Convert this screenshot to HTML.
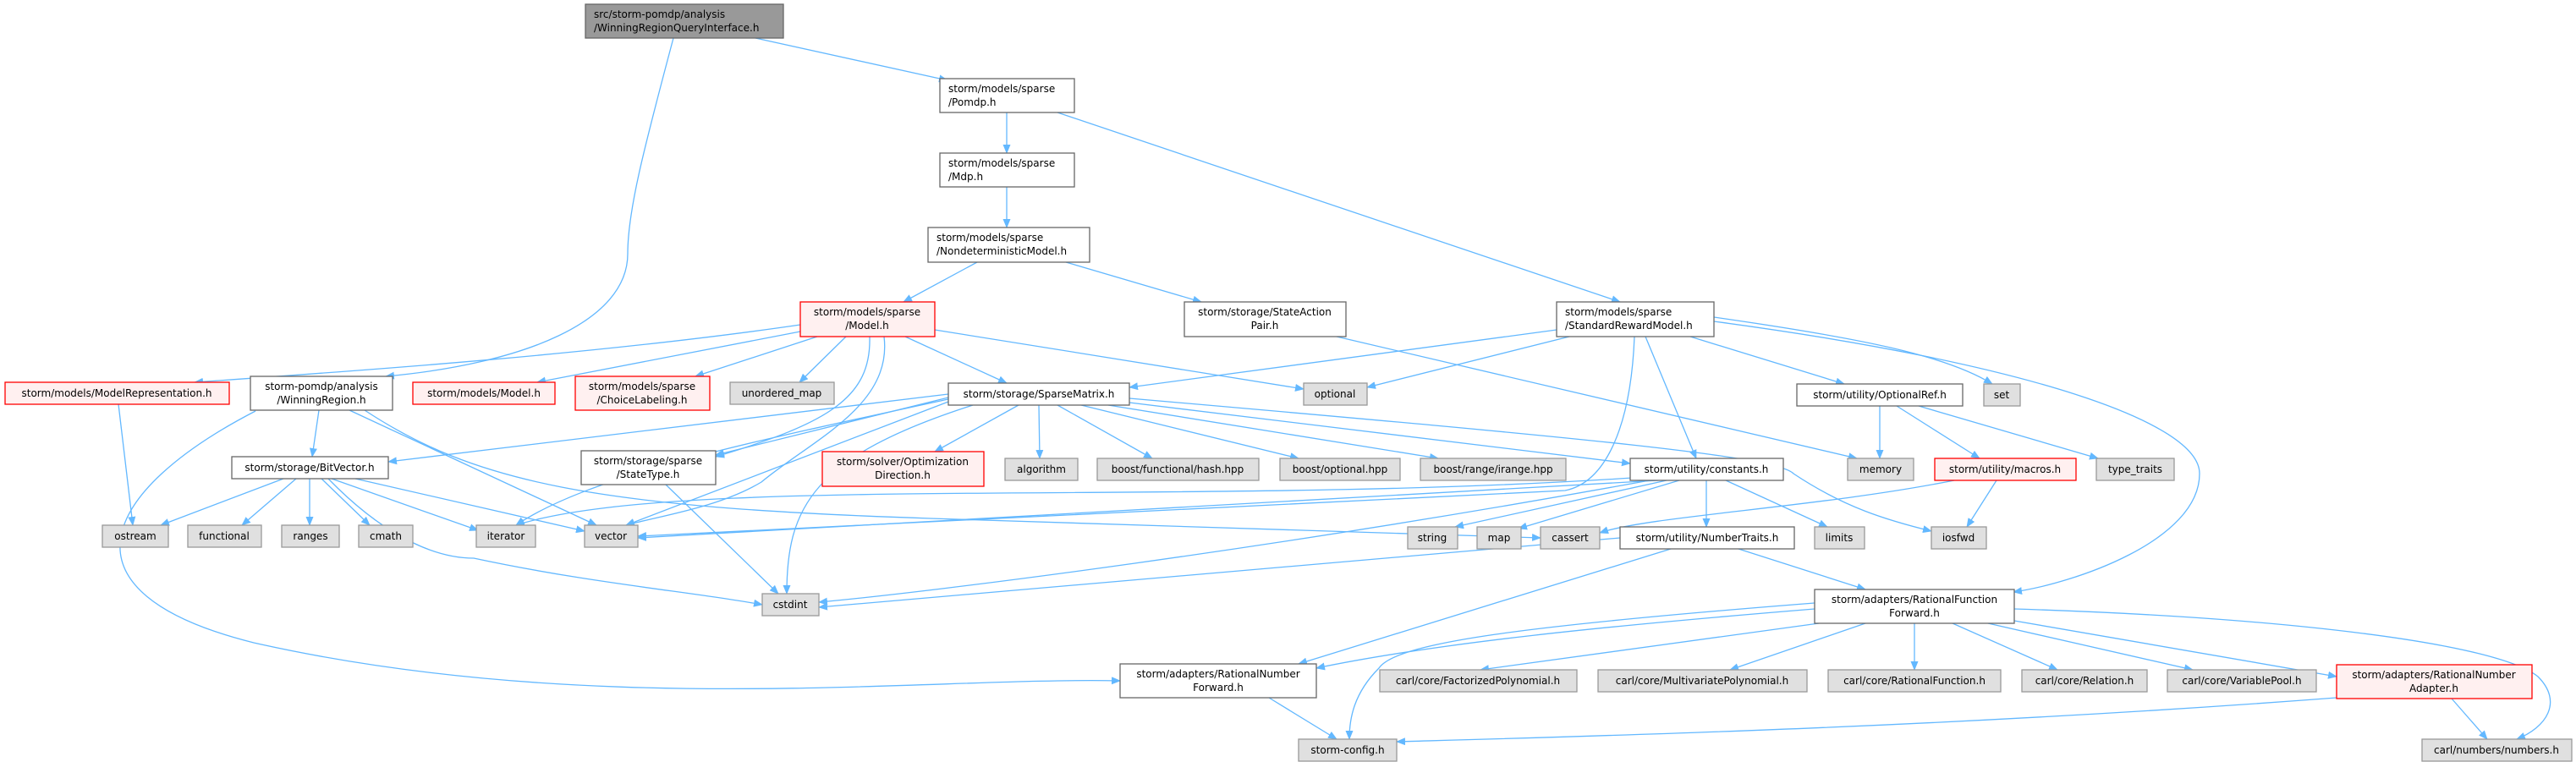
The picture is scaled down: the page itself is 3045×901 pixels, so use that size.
<!DOCTYPE html>
<html><head><meta charset="utf-8"><style>
html,body{margin:0;padding:0;background:#fff;}
svg{display:block;}
text{font-family:"DejaVu Sans","Liberation Sans",sans-serif;font-size:12px;fill:#000;}
.n rect{fill:#fff;stroke:#666;stroke-width:1.3;}
.r rect{fill:#fff0f0;stroke:#ff0000;stroke-width:1.3;}
.g rect{fill:#e0e0e0;stroke:#999;stroke-width:1.3;}
.root rect{fill:#999;stroke:#666;stroke-width:1.3;}
path.e{fill:none;stroke:#63b8ff;stroke-width:1.3;marker-end:url(#a);}
</style></head><body>
<svg width="3045" height="901" viewBox="0 0 3045 901" xmlns="http://www.w3.org/2000/svg">
<defs><marker id="a" markerUnits="userSpaceOnUse" markerWidth="11" markerHeight="9" refX="10" refY="4.5" orient="auto"><path d="M0,0 L11,4.5 L0,9 z" fill="#63b8ff"/></marker></defs>
<g>
<path class="e" d="M893,45 L1120,95"/>
<path class="e" d="M796,45 C760,180 742,250 742,300 C742,380 620,430 456,445"/>
<path class="e" d="M1190,133 L1190,181"/>
<path class="e" d="M1250,133 L1915,357"/>
<path class="e" d="M1190,221 L1190,269"/>
<path class="e" d="M1155,310 L1068,357"/>
<path class="e" d="M1260,310 L1420,357"/>
<path class="e" d="M946,384 C700,420 400,440 230,452"/>
<path class="e" d="M946,392 L635,452"/>
<path class="e" d="M966,398 L822,445"/>
<path class="e" d="M1000,398 L945,452"/>
<path class="e" d="M1070,398 L1190,453"/>
<path class="e" d="M1105,390 L1541,460"/>
<path class="e" d="M1028,398 C1030,470 980,500 846,540"/>
<path class="e" d="M1045,398 C1055,480 960,520 900,570 C850,600 780,610 740,621"/>
<path class="e" d="M1580,398 L2195,542"/>
<path class="e" d="M1840,390 L1335,458"/>
<path class="e" d="M1855,398 L1616,458"/>
<path class="e" d="M2026,375 C2200,400 2300,420 2355,454"/>
<path class="e" d="M1998,398 L2180,454"/>
<path class="e" d="M1945,398 L2005,542"/>
<path class="e" d="M1932,398 C1928,500 1900,570 1850,580 L754,634"/>
<path class="e" d="M2026,380 C2400,430 2600,500 2600,560 C2600,640 2450,690 2380,700"/>
<path class="e" d="M377,485 L369,540"/>
<path class="e" d="M413,485 L705,621"/>
<path class="e" d="M431,485 C560,570 700,600 1100,613 C1500,625 1700,630 1821,636"/>
<path class="e" d="M302,486 C120,580 60,700 300,760 C700,850 1100,800 1324,805"/>
<path class="e" d="M140,478 L157,621"/>
<path class="e" d="M1121,466 L459,546"/>
<path class="e" d="M1121,470 L846,538"/>
<path class="e" d="M1204,479 L1105,534"/>
<path class="e" d="M1228,479 L1229,542"/>
<path class="e" d="M1250,479 L1362,542"/>
<path class="e" d="M1278,479 L1535,542"/>
<path class="e" d="M1310,479 L1700,542"/>
<path class="e" d="M1335,476 L1927,548"/>
<path class="e" d="M1335,471 C1900,520 2100,540 2120,560 C2180,600 2230,615 2283,628"/>
<path class="e" d="M1121,475 L740,621"/>
<path class="e" d="M1121,472 C900,520 700,560 610,621"/>
<path class="e" d="M1150,479 C960,540 930,600 930,702"/>
<path class="e" d="M335,566 L190,621"/>
<path class="e" d="M350,566 L286,621"/>
<path class="e" d="M366,566 L366,621"/>
<path class="e" d="M380,566 L437,621"/>
<path class="e" d="M392,566 L565,627"/>
<path class="e" d="M420,566 L691,628"/>
<path class="e" d="M388,566 C460,640 520,660 560,660 C700,690 820,700 901,715"/>
<path class="e" d="M787,573 L920,702"/>
<path class="e" d="M1960,568 L754,636"/>
<path class="e" d="M1970,568 L1720,623"/>
<path class="e" d="M1985,568 L1795,625"/>
<path class="e" d="M2310,568 C2150,600 1950,610 1891,630"/>
<path class="e" d="M2040,568 L2160,623"/>
<path class="e" d="M2017,568 L2017,623"/>
<path class="e" d="M1950,568 C1500,650 1100,700 968,712"/>
<path class="e" d="M1930,565 C1400,600 800,560 610,621"/>
<path class="e" d="M2222,480 L2222,542"/>
<path class="e" d="M2242,480 L2340,542"/>
<path class="e" d="M2268,480 L2480,542"/>
<path class="e" d="M2360,568 L2325,623"/>
<path class="e" d="M1915,636 L968,718"/>
<path class="e" d="M1975,649 L1535,785"/>
<path class="e" d="M2055,649 L2205,697"/>
<path class="e" d="M2145,720 C1900,740 1700,760 1556,790"/>
<path class="e" d="M2145,713 C1800,740 1650,760 1630,790 C1600,820 1595,850 1595,874"/>
<path class="e" d="M2150,737 L1750,792"/>
<path class="e" d="M2205,737 L2045,792"/>
<path class="e" d="M2263,737 L2263,792"/>
<path class="e" d="M2308,737 L2432,792"/>
<path class="e" d="M2350,737 L2592,792"/>
<path class="e" d="M2381,734 L2762,800"/>
<path class="e" d="M2381,720 C2700,730 2950,760 3000,800 C3030,830 3010,860 2975,874"/>
<path class="e" d="M1500,825 L1580,874"/>
<path class="e" d="M2762,825 C2300,860 1900,870 1651,877"/>
<path class="e" d="M2898,826 L2940,874"/>
</g>
<g class="root"><rect x="692" y="5" width="234" height="40"/><text x="702" y="21">src/storm-pomdp/analysis</text><text x="702" y="37">/WinningRegionQueryInterface.h</text></g>
<g class="n"><rect x="1111" y="93" width="159" height="40"/><text x="1121" y="109">storm/models/sparse</text><text x="1121" y="125">/Pomdp.h</text></g>
<g class="n"><rect x="1111" y="181" width="159" height="40"/><text x="1121" y="197">storm/models/sparse</text><text x="1121" y="213">/Mdp.h</text></g>
<g class="n"><rect x="1097" y="269" width="191" height="41"/><text x="1107" y="285">storm/models/sparse</text><text x="1107" y="301">/NondeterministicModel.h</text></g>
<g class="r"><rect x="946" y="357" width="159" height="41"/><text x="1025" y="373" text-anchor="middle">storm/models/sparse</text><text x="1025" y="389" text-anchor="middle">/Model.h</text></g>
<g class="n"><rect x="1400" y="357" width="191" height="41"/><text x="1495" y="373" text-anchor="middle">storm/storage/StateAction</text><text x="1495" y="389" text-anchor="middle">Pair.h</text></g>
<g class="n"><rect x="1840" y="357" width="186" height="41"/><text x="1850" y="373">storm/models/sparse</text><text x="1850" y="389">/StandardRewardModel.h</text></g>
<g class="r"><rect x="6" y="452" width="265" height="26"/><text x="138" y="469" text-anchor="middle">storm/models/ModelRepresentation.h</text></g>
<g class="n"><rect x="296" y="445" width="168" height="40"/><text x="380" y="461" text-anchor="middle">storm-pomdp/analysis</text><text x="380" y="477" text-anchor="middle">/WinningRegion.h</text></g>
<g class="r"><rect x="488" y="452" width="168" height="26"/><text x="572" y="469" text-anchor="middle">storm/models/Model.h</text></g>
<g class="r"><rect x="680" y="445" width="159" height="40"/><text x="759" y="461" text-anchor="middle">storm/models/sparse</text><text x="759" y="477" text-anchor="middle">/ChoiceLabeling.h</text></g>
<g class="g"><rect x="863" y="452" width="123" height="26"/><text x="924" y="469" text-anchor="middle">unordered_map</text></g>
<g class="n"><rect x="1121" y="453" width="214" height="26"/><text x="1228" y="470" text-anchor="middle">storm/storage/SparseMatrix.h</text></g>
<g class="g"><rect x="1541" y="453" width="75" height="26"/><text x="1578" y="470" text-anchor="middle">optional</text></g>
<g class="n"><rect x="2124" y="454" width="196" height="26"/><text x="2222" y="471" text-anchor="middle">storm/utility/OptionalRef.h</text></g>
<g class="g"><rect x="2345" y="454" width="43" height="26"/><text x="2366" y="471" text-anchor="middle">set</text></g>
<g class="n"><rect x="274" y="540" width="185" height="26"/><text x="366" y="557" text-anchor="middle">storm/storage/BitVector.h</text></g>
<g class="n"><rect x="687" y="533" width="159" height="40"/><text x="766" y="549" text-anchor="middle">storm/storage/sparse</text><text x="766" y="565" text-anchor="middle">/StateType.h</text></g>
<g class="r"><rect x="972" y="534" width="191" height="41"/><text x="1067" y="550" text-anchor="middle">storm/solver/Optimization</text><text x="1067" y="566" text-anchor="middle">Direction.h</text></g>
<g class="g"><rect x="1188" y="542" width="86" height="26"/><text x="1231" y="559" text-anchor="middle">algorithm</text></g>
<g class="g"><rect x="1297" y="542" width="191" height="26"/><text x="1392" y="559" text-anchor="middle">boost/functional/hash.hpp</text></g>
<g class="g"><rect x="1513" y="542" width="142" height="26"/><text x="1584" y="559" text-anchor="middle">boost/optional.hpp</text></g>
<g class="g"><rect x="1679" y="542" width="172" height="26"/><text x="1765" y="559" text-anchor="middle">boost/range/irange.hpp</text></g>
<g class="n"><rect x="1927" y="542" width="181" height="26"/><text x="2017" y="559" text-anchor="middle">storm/utility/constants.h</text></g>
<g class="g"><rect x="2184" y="542" width="78" height="26"/><text x="2223" y="559" text-anchor="middle">memory</text></g>
<g class="r"><rect x="2287" y="542" width="167" height="26"/><text x="2370" y="559" text-anchor="middle">storm/utility/macros.h</text></g>
<g class="g"><rect x="2478" y="542" width="92" height="26"/><text x="2524" y="559" text-anchor="middle">type_traits</text></g>
<g class="g"><rect x="121" y="621" width="78" height="26"/><text x="160" y="638" text-anchor="middle">ostream</text></g>
<g class="g"><rect x="222" y="621" width="87" height="26"/><text x="265" y="638" text-anchor="middle">functional</text></g>
<g class="g"><rect x="333" y="621" width="68" height="26"/><text x="367" y="638" text-anchor="middle">ranges</text></g>
<g class="g"><rect x="424" y="621" width="64" height="26"/><text x="456" y="638" text-anchor="middle">cmath</text></g>
<g class="g"><rect x="563" y="621" width="70" height="26"/><text x="598" y="638" text-anchor="middle">iterator</text></g>
<g class="g"><rect x="691" y="621" width="63" height="26"/><text x="722" y="638" text-anchor="middle">vector</text></g>
<g class="g"><rect x="1664" y="623" width="59" height="26"/><text x="1693" y="640" text-anchor="middle">string</text></g>
<g class="g"><rect x="1746" y="623" width="52" height="26"/><text x="1772" y="640" text-anchor="middle">map</text></g>
<g class="g"><rect x="1821" y="623" width="70" height="26"/><text x="1856" y="640" text-anchor="middle">cassert</text></g>
<g class="n"><rect x="1915" y="623" width="206" height="26"/><text x="2018" y="640" text-anchor="middle">storm/utility/NumberTraits.h</text></g>
<g class="g"><rect x="2145" y="623" width="59" height="26"/><text x="2174" y="640" text-anchor="middle">limits</text></g>
<g class="g"><rect x="2283" y="623" width="65" height="26"/><text x="2315" y="640" text-anchor="middle">iosfwd</text></g>
<g class="g"><rect x="901" y="702" width="67" height="26"/><text x="934" y="719" text-anchor="middle">cstdint</text></g>
<g class="n"><rect x="2145" y="697" width="236" height="40"/><text x="2263" y="713" text-anchor="middle">storm/adapters/RationalFunction</text><text x="2263" y="729" text-anchor="middle">Forward.h</text></g>
<g class="n"><rect x="1324" y="785" width="232" height="40"/><text x="1440" y="801" text-anchor="middle">storm/adapters/RationalNumber</text><text x="1440" y="817" text-anchor="middle">Forward.h</text></g>
<g class="g"><rect x="1631" y="792" width="233" height="26"/><text x="1747" y="809" text-anchor="middle">carl/core/FactorizedPolynomial.h</text></g>
<g class="g"><rect x="1889" y="792" width="247" height="26"/><text x="2012" y="809" text-anchor="middle">carl/core/MultivariatePolynomial.h</text></g>
<g class="g"><rect x="2161" y="792" width="204" height="26"/><text x="2263" y="809" text-anchor="middle">carl/core/RationalFunction.h</text></g>
<g class="g"><rect x="2390" y="792" width="148" height="26"/><text x="2464" y="809" text-anchor="middle">carl/core/Relation.h</text></g>
<g class="g"><rect x="2562" y="792" width="176" height="26"/><text x="2650" y="809" text-anchor="middle">carl/core/VariablePool.h</text></g>
<g class="r"><rect x="2762" y="786" width="231" height="40"/><text x="2877" y="802" text-anchor="middle">storm/adapters/RationalNumber</text><text x="2877" y="818" text-anchor="middle">Adapter.h</text></g>
<g class="g"><rect x="1535" y="874" width="116" height="26"/><text x="1593" y="891" text-anchor="middle">storm-config.h</text></g>
<g class="g"><rect x="2863" y="874" width="177" height="26"/><text x="2951" y="891" text-anchor="middle">carl/numbers/numbers.h</text></g>
</svg>
</body></html>
